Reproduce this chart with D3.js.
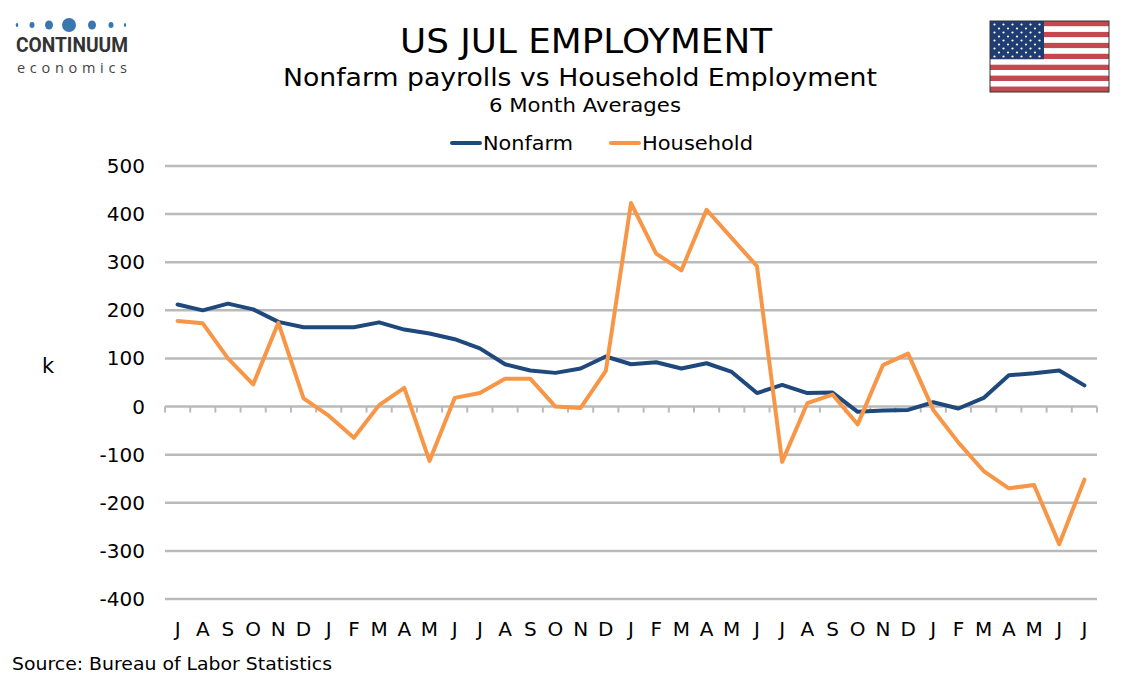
<!DOCTYPE html>
<html>
<head>
<meta charset="utf-8">
<script src="https://cdn.jsdelivr.net/npm/d3@7"></script>
<style>
  body { margin: 0; background: #fff; }
  svg { display: block; font-family: "DejaVu Sans", Verdana, sans-serif; }
</style>
</head>
<body>
<svg id="chart" width="1134" height="680"></svg>
<script>
// Month labels, Jul through Jul three years later
const MONTHS = ["J","A","S","O","N","D","J","F","M","A","M","J",
                "J","A","S","O","N","D","J","F","M","A","M","J",
                "J","A","S","O","N","D","J","F","M","A","M","J","J"];

// 6 month averages, thousands
const NONFARM = [212, 200, 214, 202, 176, 165, 165, 165, 175, 160, 152, 140,
                 121, 88, 75, 70, 79, 104, 88, 92, 79, 90, 72, 28,
                 45, 28, 29, -11, -8, -7, 9, -4, 18, 65, 69, 75, 44];
const HOUSEHOLD = [178, 173, 100, 46, 174, 17, -19, -65, 3, 39, -113, 18,
                   28, 58, 58, 0, -3, 74, 423, 318, 283, 409, 350, 292,
                   -115, 7, 25, -37, 86, 110, -7, -75, -134, -170, -163, -286, -152];

const Y_TICKS = [500, 400, 300, 200, 100, 0, -100, -200, -300, -400];

const SERIES = [
    { name: "Nonfarm", values: NONFARM, colour: "#1f497d" },
    { name: "Household", values: HOUSEHOLD, colour: "#f79646" }
];

const svg = d3.select("#chart");
const margin = { left: 165, right: 1097, top: 166, bottom: 599 };

const x = d3.scaleBand()
    .domain(d3.range(MONTHS.length))
    .range([margin.left, margin.right]);

const y = d3.scaleLinear()
    .domain([-400, 500])
    .range([margin.bottom, margin.top]);

// Gridlines
svg.append("g")
    .selectAll("line")
    .data(Y_TICKS)
    .enter()
    .append("line")
    .attr("x1", margin.left)
    .attr("x2", margin.right)
    .attr("y1", d => y(d))
    .attr("y2", d => y(d))
    .attr("stroke", "#bababa")
    .attr("stroke-width", 2.5);

// Y tick labels
svg.append("g")
    .selectAll("text")
    .data(Y_TICKS)
    .enter()
    .append("text")
    .attr("x", 145)
    .attr("y", d => y(d) + 7)
    .attr("text-anchor", "end")
    .attr("font-size", 20)
    .attr("fill", "#000")
    .text(d => d);

svg.append("text")
    .attr("x", 48)
    .attr("y", 373)
    .attr("text-anchor", "middle")
    .attr("font-size", 21)
    .text("k");

// Category ticks hanging from the zero line
const boundaries = d3.range(MONTHS.length + 1).map(i => margin.left + i * x.step());
svg.append("g")
    .selectAll("line")
    .data(boundaries)
    .enter()
    .append("line")
    .attr("x1", d => d)
    .attr("x2", d => d)
    .attr("y1", y(0))
    .attr("y2", y(0) + 6)
    .attr("stroke", "#bababa")
    .attr("stroke-width", 2);

// X labels
svg.append("g")
    .selectAll("text")
    .data(MONTHS)
    .enter()
    .append("text")
    .attr("x", (d, i) => x(i) + x.bandwidth() / 2)
    .attr("y", 636)
    .attr("text-anchor", "middle")
    .attr("font-size", 20)
    .text(d => d);

// Lines
const line = d3.line()
    .x((d, i) => x(i) + x.bandwidth() / 2)
    .y(d => y(d));

svg.append("g")
    .selectAll("path")
    .data(SERIES)
    .enter()
    .append("path")
    .attr("d", d => line(d.values))
    .attr("fill", "none")
    .attr("stroke", d => d.colour)
    .attr("stroke-width", 4)
    .attr("stroke-linejoin", "round")
    .attr("stroke-linecap", "round");

// Titles (stretched to the wider Verdana widths of the original)
svg.append("text")
    .attr("x", 400).attr("y", 53)
    .attr("font-size", 33)
    .attr("textLength", 372)
    .attr("lengthAdjust", "spacingAndGlyphs")
    .text("US JUL EMPLOYMENT");
svg.append("text")
    .attr("x", 283).attr("y", 86)
    .attr("font-size", 24)
    .attr("textLength", 594)
    .attr("lengthAdjust", "spacingAndGlyphs")
    .text("Nonfarm payrolls vs Household Employment");
svg.append("text")
    .attr("x", 489).attr("y", 112)
    .attr("font-size", 19)
    .attr("textLength", 192)
    .attr("lengthAdjust", "spacingAndGlyphs")
    .text("6 Month Averages");

// Legend
const legendX = [452, 611];
const legendW = [90, 111];
const legend = svg.append("g")
    .selectAll("g")
    .data(SERIES)
    .enter()
    .append("g")
    .attr("transform", (d, i) => `translate(${legendX[i]},143)`);
legend.append("line")
    .attr("x1", 0).attr("x2", 28)
    .attr("stroke", d => d.colour)
    .attr("stroke-width", 4)
    .attr("stroke-linecap", "round");
legend.append("text")
    .attr("x", 31).attr("y", 7)
    .attr("font-size", 20)
    .attr("textLength", (d, i) => legendW[i])
    .attr("lengthAdjust", "spacingAndGlyphs")
    .text(d => d.name);

// Source
svg.append("text")
    .attr("x", 12).attr("y", 670)
    .attr("font-size", 18)
    .attr("textLength", 320)
    .attr("lengthAdjust", "spacingAndGlyphs")
    .text("Source: Bureau of Labor Statistics");

// Logo
const logo = svg.append("g");
const DOTS = [[17, 1.3, 2], [32, 2.5, 3], [49, 4, 4.5], [69, 7, 7], [92, 4, 4.5], [111, 2.5, 3], [125, 1.1, 2]];
logo.selectAll("ellipse")
    .data(DOTS)
    .enter()
    .append("ellipse")
    .attr("cx", d => d[0])
    .attr("cy", 25)
    .attr("rx", d => d[1])
    .attr("ry", d => d[2])
    .attr("fill", "#3a77b0");
logo.append("text")
    .attr("x", 16).attr("y", 52)
    .attr("font-family", "Roboto, 'Liberation Sans', sans-serif")
    .attr("font-weight", "bold")
    .attr("font-size", 20)
    .attr("textLength", 112)
    .attr("lengthAdjust", "spacingAndGlyphs")
    .attr("fill", "#333")
    .text("CONTINUUM");
logo.append("text")
    .attr("x", 17).attr("y", 73)
    .attr("font-family", "'Open Sans', sans-serif")
    .attr("font-size", 14.5)
    .attr("textLength", 110)
    .attr("fill", "#444")
    .text("economics");

// Flag
const flag = svg.append("g").attr("transform", "translate(990,21)");
const FW = 119, FH = 71;
const stripe = FH / 13;
flag.selectAll("rect.stripe")
    .data(d3.range(13))
    .enter()
    .append("rect")
    .attr("x", 0)
    .attr("y", i => i * stripe)
    .attr("width", FW)
    .attr("height", stripe)
    .attr("fill", i => i % 2 ? "#ffffff" : "#c4484f");
flag.append("rect")
    .attr("width", 54).attr("height", stripe * 7)
    .attr("fill", "#1f3d72");
const stars = [];
for (let r = 0; r < 9; r++) {
    const n = r % 2 ? 5 : 6;
    for (let c = 0; c < n; c++) {
        stars.push([4.5 + c * 9 + (r % 2 ? 4.5 : 0), 3.5 + r * 4]);
    }
}
flag.selectAll("circle")
    .data(stars)
    .enter()
    .append("circle")
    .attr("cx", d => d[0])
    .attr("cy", d => d[1])
    .attr("r", 1.1)
    .attr("fill", "#fff");
flag.append("rect")
    .attr("width", FW).attr("height", FH)
    .attr("fill", "none")
    .attr("stroke", "#333")
    .attr("stroke-width", 1);
</script>
</body>
</html>
